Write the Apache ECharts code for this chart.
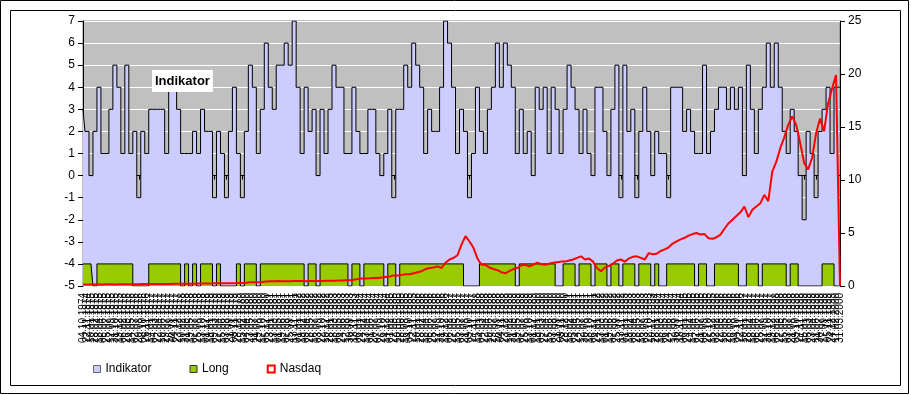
<!DOCTYPE html>
<html><head><meta charset="utf-8">
<script src="https://cdn.jsdelivr.net/npm/echarts@6/dist/echarts.min.js"></script>
<style>html,body{margin:0;padding:0;background:#fff}#c{width:911px;height:395px}</style>
</head><body><div id="c"></div>
<script>
// Indikator (left axis)
const indikator = [
3,2,0,2,4,1,1,3,5,4, 1,5,1,2,-1,2,1,3,3,3, 3,1,4,4,3,1,1,1,2,1, 3,2,
2,-1,2,1,-1,2,4,1,-1,2, 5,4,1,3,6,4,3,5,5,6, 5,7,4,1,4,2,3,0,3,1, 3,5,
4,4,1,1,4,2,1,1,3,3, 1,0,1,3,-1,3,3,5,4,6, 5,4,1,3,2,2,4,7,6,4, 1,
3,2,-1,1,4,2,1,3,4,6, 4,6,5,4,1,3,1,2,0,4, 3,4,1,4,3,1,3,5,4,3, 1,
3,1,0,4,4,2,0,3,5,-1, 5,2,3,-1,2,4,2,0,2,1, 1,-1,4,4,4,2,3,2,1,1, 5,
1,2,3,4,4,3,4,3,4,0, 5,3,1,3,4,6,4,6,4,2, 1,3,2,0,-2,2,1,-1,2,3, 4,1,4,4
];
// Long signal (-4 = long, -5 = flat), left axis
const longSignal = [
-4,-4,-4,-5,-4,-4,-4,-4,-4,-4, -4,-4,-4,-5,-5,-5,-5,-4,-4,-4, -4,-4,-4,-4,-4,-5,-4,-5,-4,-5,
-4,-4,-4,-5,-4,-5,-5,-5,-5,-4, -5,-4,-4,-4,-5,-4,-4,-4,-4,-4, -4,-4,-4,-4,-4,-4,-5,-4,-4,-5,
-4,-4,-4,-4,-4,-4,-4,-5,-4,-4, -5,-4,-4,-4,-4,-4,-5,-4,-4,-5, -4,-4,-4,-4,-4,-4,-4,-4,-4,-4,
-4,-4,-4,-4,-4,-4,-5,-5,-5,-5, -4,-4,-4,-4,-4,-4,-4,-4,-4,-5, -4,-4,-4,-4,-4,-4,-4,-4,-4,-5,
-5,-4,-4,-4,-5,-4,-4,-4,-5,-4, -4,-4,-5,-4,-4,-5,-4,-4,-4,-5, -4,-4,-4,-5,-4,-5,-5,-4,-4,-4,
-4,-4,-4,-4,-5,-4,-4,-5,-5,-4, -4,-4,-4,-4,-4,-5,-5,-4,-4,-4, -5,-4,-4,-4,-4,-4,-4,-5,-4,-4,
-5,-5,-5,-5,-5,-5,-4,-4,-4,-5, -5
];
// Nasdaq (right axis)
const nasdaq = [
0.14,0.14,0.15,0.15,0.15,0.15,0.16,0.16,0.15,0.16,
0.16,0.16,0.17,0.17,0.17,0.18,0.18,0.18,0.19,0.19,
0.2,0.2,0.2,0.21,0.21,0.21,0.22,0.22,0.22,0.23,
0.23,0.24,0.24,0.25,0.25,0.26,0.26,0.27,0.27,0.28,
0.28,0.3,0.35,0.36,0.36,0.37,
0.42,0.45,0.45,0.46,0.45,0.44,0.45,0.46,0.47,0.46,
0.45,0.46,0.47,0.48,0.48,0.49,0.5,
0.5,0.51,0.53,0.55,0.55,
0.6,0.65,0.7,0.7,0.72,0.75,0.75,0.8,0.85,0.9,
1.0,1.0,1.05,1.1,1.1,1.2,1.3,1.4,1.6,1.7,
1.75,1.85,1.7,2.2,2.5,2.65,2.9,3.9,4.7,4.2,
3.6,2.6,2.0,2.0,1.75,1.6,1.5,1.3,1.2,1.4,
1.6,1.7,1.95,2.0,1.85,2.0,2.2,2.05,2.0,2.1,
2.2,2.25,2.3,2.3,2.4,2.5,2.65,2.8,2.5,2.6,
2.3,1.7,1.4,1.75,1.9,2.1,2.4,2.5,2.3,2.6,
2.75,2.8,2.65,2.5,3.1,3.0,3.05,3.3,3.45,3.65,
4.0,4.2,4.4,4.55,4.75,4.9,5.0,4.85,4.9,4.5,
4.45,4.6,4.85,5.4,5.9,6.25,6.6,6.95,7.5,6.5,
7.2,7.5,7.8,8.6,8.0,10.8,11.7,13.0,14.0,15.2,
16.0,15.2,13.5,11.6,11.0,12.1,14.4,15.8,14.6,17.2,
18.6,19.9,0
];
// axis ranges [min, max, step]
const leftAxisRange = [-5, 7, 1];
const rightAxisRange = [0, 25, 5];
const seriesNames = ['Indikator', 'Long', 'Nasdaq'];

// category labels: dates (dd.mm.yyyy), 7-week spacing
const categories = [];
(function(){
  let t = Date.UTC(1974, 9, 4);
  for (let i = 0; i < indikator.length; i++) {
    const d = new Date(t);
    const dd = String(d.getUTCDate()).padStart(2,'0');
    const mm = String(d.getUTCMonth()+1).padStart(2,'0');
    categories.push(dd + '.' + mm + '.' + d.getUTCFullYear());
    t += 49 * 86400000;
  }
})();

const FONT = 'Arial, "Liberation Sans", sans-serif';
const chart = echarts.init(document.getElementById('c'), null, {renderer:'canvas'});
chart.setOption({
  animation: false,
  backgroundColor: '#fff',
  textStyle: {fontFamily: FONT},
  title: {
    text: 'Indikator', left: 152, top: 70, padding: [5, 3, 4, 3],
    backgroundColor: '#fff',
    textStyle: {fontSize: 13, fontWeight: 'bold', color: '#000', fontFamily: FONT}
  },
  graphic: [
    {type: 'rect', shape: {x: 0.5, y: 0.5, width: 908, height: 393}, style: {fill: 'none', stroke: '#000', lineWidth: 1}, silent: true},
    {type: 'rect', shape: {x: 10.5, y: 10.5, width: 890, height: 375}, style: {fill: 'none', stroke: '#000', lineWidth: 1}, silent: true}
  ],
  legend: {
    left: 93, top: 363, padding: 0, itemWidth: 7, itemHeight: 7, itemGap: 38,
    textStyle: {fontSize: 12, color: '#000', fontFamily: FONT},
    data: [
      {name: seriesNames[0], icon: 'rect', itemStyle: {color: '#CCCCFF', borderColor: '#666', borderWidth: 1}},
      {name: seriesNames[1], icon: 'rect', itemStyle: {color: '#99CC00', borderColor: '#333', borderWidth: 1}},
      {name: seriesNames[2], icon: 'rect', itemStyle: {color: '#fff', borderColor: '#FF0000', borderWidth: 2}}
    ]
  },
  grid: {left: 83, top: 21, width: 757, height: 265, show: true, backgroundColor: '#C0C0C0', borderColor: '#808080', borderWidth: 1},
  xAxis: {
    type: 'category', data: categories, boundaryGap: false,
    axisLine: {lineStyle: {color: '#000', width: 1}},
    axisTick: {show: true, interval: 0, length: 4, lineStyle: {color: '#000'}},
    axisLabel: {interval: 0, rotate: 90, fontSize: 10, color: '#000', margin: 7, fontFamily: FONT},
    splitLine: {show: false}
  },
  yAxis: [
    {
      type: 'value', position: 'left', min: leftAxisRange[0], max: leftAxisRange[1], interval: leftAxisRange[2],
      axisLine: {show: true, lineStyle: {color: '#000'}},
      axisTick: {show: true, length: 5, lineStyle: {color: '#000'}},
      axisLabel: {fontSize: 12, color: '#000', margin: 8, fontFamily: FONT},
      splitLine: {show: true, lineStyle: {color: '#fff', width: 1}}
    },
    {
      type: 'value', position: 'right', min: rightAxisRange[0], max: rightAxisRange[1], interval: rightAxisRange[2],
      axisLine: {show: true, lineStyle: {color: '#000'}},
      axisTick: {show: true, length: 5, lineStyle: {color: '#000'}},
      axisLabel: {fontSize: 12, color: '#000', margin: 8, fontFamily: FONT},
      splitLine: {show: false}
    }
  ],
  series: [
    {
      name: seriesNames[0], type: 'line', data: indikator, step: 'middle', symbol: 'none', z: 2,
      lineStyle: {color: '#000', width: 1}, itemStyle: {color: '#CCCCFF'},
      areaStyle: {color: '#CCCCFF', opacity: 1, origin: 'start'}
    },
    {
      name: seriesNames[1], type: 'line', data: longSignal, step: 'middle', symbol: 'none', z: 3,
      lineStyle: {color: '#000', width: 1}, itemStyle: {color: '#99CC00'},
      areaStyle: {color: '#99CC00', opacity: 1, origin: 'start'}
    },
    {
      name: seriesNames[2], type: 'line', data: nasdaq, yAxisIndex: 1, symbol: 'none', z: 4,
      lineStyle: {color: '#FF0000', width: 2}, itemStyle: {color: '#FF0000'}
    }
  ]
});
</script>
</body></html>
